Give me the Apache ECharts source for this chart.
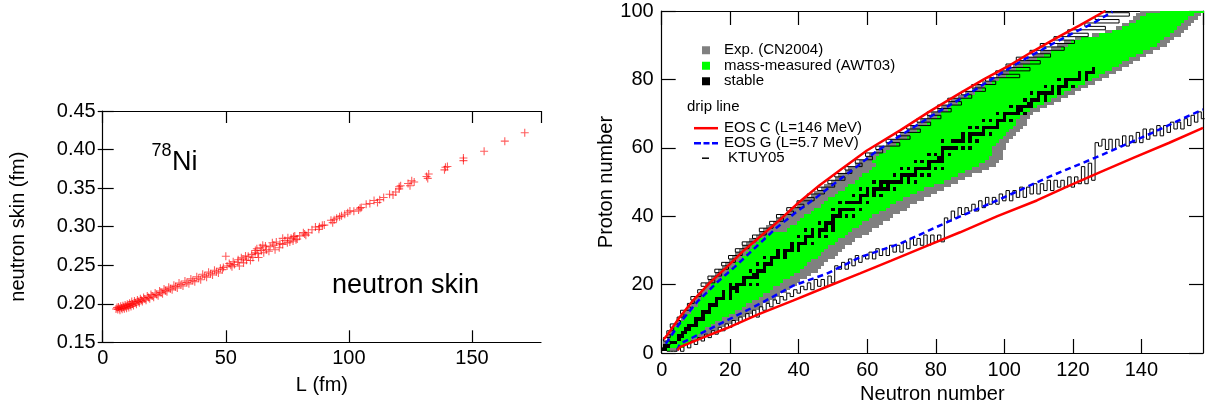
<!DOCTYPE html>
<html><head><meta charset="utf-8">
<script src="https://cdn.jsdelivr.net/npm/echarts@6/dist/echarts.min.js"></script>
<style>html,body{margin:0;padding:0;background:#fff}#c{width:1216px;height:410px}</style>
</head><body><div id="c"></div>
<script>
// ---------- left panel: neutron skin of 78Ni vs L ----------
const skinL = [5.4,5.8,6.1,6.4,6.7,7.0,7.3,7.6,7.9,8.2,8.5,8.8,9.1,9.4,9.7,10.0,10.3,10.6,10.9,11.2,11.5,11.8,12.1,12.5,12.9,13.3,13.7,14.1,14.5,14.9,15.3,15.7,16.1,16.6,17.1,17.6,18.1,18.6,19.1,19.6,20.1,20.7,21.3,21.9,22.5,23.1,23.7,24.3,24.9,25.5,26.1,26.8,27.5,28.2,28.9,29.6,30.3,31.0,31.8,32.6,33.4,34.2,35.0,35.8,36.6,37.4,38.2,39.0,39.8,40.6,41.4,42.2,43.0,43.8,44.6,45.4,46.2,47.0,47.8,48.6,
  49.0,50.0,50.5,51.4,52.0,52.5,53.0,53.5,54.9,55.0,55.5,56.3,57.0,57.2,58.0,58.4,59.1,60.0,60.5,61.0,61.9,62.0,62.6,63.0,63.3,64.0,64.5,65.0,65.4,66.1,66.5,67.5,68.0,68.9,69.5,70.0,70.5,71.7,72.0,73.1,73.1,74.0,75.0,75.2,76.0,76.5,77.3,77.5,78.0,78.5,79.0,80.0,81.5,82.0,82.5,83.5,85.0,86.4,87.8,88.0,89.2,90.0,92.7,93.4,94.0,95.0,96.2,97.0,98.3,99.5,100.4,102.0,103.9,104.5,105.0,107.0,108.5,110.2,111.6,112.5,114.1,116.5,117.9,119.0,120.4,120.4,121.0,124.0,124.8,125.5,126.5,131.5,132.0,132.4,138.8,139.2,140.0,146.5,146.5,154.9,163.3,171.4];
const skinV = [0.1932,0.1950,0.1925,0.1958,0.1940,0.1915,0.1968,0.1945,0.1928,0.1975,0.1955,0.1935,0.1985,0.1962,0.1942,0.1995,0.1972,0.1952,0.2008,0.1985,0.1965,0.2030,0.1998,0.1978,0.2035,0.2012,0.1995,0.2050,0.2030,0.2012,0.2065,0.2045,0.2028,0.2082,0.2062,0.2045,0.2100,0.2080,0.2065,0.2120,0.2100,0.2085,0.2140,0.2120,0.2105,0.2165,0.2145,0.2130,0.2190,0.2170,0.2155,0.2215,0.2195,0.2180,0.2240,0.2222,0.2205,0.2268,0.2248,0.2230,0.2295,0.2275,0.2258,0.2322,0.2300,0.2285,0.2350,0.2330,0.2312,0.2382,0.2362,0.2345,0.2410,0.2390,0.2372,0.2435,0.2415,0.2398,0.2460,0.2442,
  0.2470,0.2617,0.2490,0.2522,0.2500,0.2480,0.2545,0.2509,0.2539,0.2570,0.2490,0.2596,0.2580,0.2530,0.2620,0.2565,0.2617,0.2560,0.2640,0.2600,0.2661,0.2690,0.2713,0.2650,0.2600,0.2726,0.2690,0.2760,0.2661,0.2748,0.2700,0.2680,0.2740,0.2791,0.2760,0.2700,0.2800,0.2726,0.2780,0.2770,0.2848,0.2820,0.2790,0.2857,0.2800,0.2850,0.2813,0.2870,0.2878,0.2830,0.2840,0.2880,0.2922,0.2905,0.2890,0.2920,0.2960,0.2996,0.2965,0.3000,0.3017,0.3020,0.3083,0.3052,0.3090,0.3110,0.3130,0.3140,0.3160,0.3180,0.3204,0.3200,0.3217,0.3240,0.3248,0.3290,0.3300,0.3340,0.3313,0.3350,0.3378,0.3420,0.3410,0.3450,0.3517,0.3490,0.3530,0.3560,0.3530,0.3596,0.3580,0.3650,0.3626,0.3683,0.3737,0.3770,0.3780,0.3890,0.3857,0.3978,0.4109,0.4217];
const skinXTicks = [0, 50, 100, 150];
const skinYTicks = [0.15, 0.20, 0.25, 0.30, 0.35, 0.40, 0.45];

// ---------- right panel: nuclear chart (index = proton number Z-1, Z = 1..100) ----------
const expMinN = [0,1,1,2,2,3,3,4,5,6, 6,7,8,9,9,10,11,12,13,13, 14,15,16,17,18,19,20,21,22,23, 24,25,26,28,29,30,31,33,34,35, 37,38,40,41,42,44,45,47,48,50, 51,52,54,55,57,58,60,61,63,64, 66,67,69,70,72,73,75,76,78,79, 81,82,84,85,87,89,91,92,94,96, 98,99,101,103,105,107,109,111,114,116, 118,121,126,130,133,135,137,138,139,140];
const expMaxN = [4,6,8,10,12,14,16,18,20,22, 24,26,28,29,31,33,34,36,37,39, 40,42,43,45,46,47,48,50,51,52, 53,55,56,58,60,61,63,64,66,67, 69,71,72,74,76,78,80,82,84,86, 88,90,93,95,97,98,99,99,99,100, 100,101,102,103,104,105,106,106,107,108, 110,112,114,116,118,120,122,124,126,128, 130,132,134,136,137,139,141,143,145,147, 148,149,151,152,153,154,155,156,157,158];
const massMinN = [1,2,2,3,3,4,4,5,6,7, 8,9,10,11,11,12,13,14,15,15, 17,18,19,20,21,22,23,24,25,26, 27,28,29,31,32,37,38,40,41,42, 44,45,47,48,49,51,52,54,55,57, 58,59,61,62,63,62,63,64,66,67, 69,70,72,73,75,76,78,79,81,82, 84,85,87,88,90,92,94,95,97,99, 101,102,104,106,108,110,112,114,117,119, 120,123,128,132,135,137,139,140,142,146];
const massMaxN = [2,6,8,8,10,11,12,14,15,17, 19,21,23,24,26,28,29,31,32,34, 35,37,38,40,41,42,43,45,46,47, 48,50,51,53,54,55,57,58,60,61, 63,65,66,68,70,72,74,76,79,82, 84,86,88,90,92,94,95,96,96,96, 97,98,99,100,101,102,103,103,104,105, 107,109,111,113,115,117,119,121,123,125, 127,129,131,133,134,136,138,140,142,144, 145,146,148,149,150,151,152,153,155,158];
const stableN = [[0,1],[1,2],[3,4],[5],[5,6],[6,7],[7,8],[8,9,10],[10],[10,11,12],
  [12],[12,13,14],[14],[14,15,16],[16],[16,17,18,20],[18,20],[18,20,22],[20,21,22],[20,22,23,24,26,28],
  [24],[24,25,26,27,28],[27,28],[26,28,29,30],[30],[28,30,31,32],[32],[30,32,33,34,36],[34,36],[34,36,37,38,40],
  [38,40],[38,40,41,42,44],[42],[40,42,43,44,46,48],[44,46],[42,44,46,47,48,50],[48,50],[46,48,49,50],[50],[50,51,52,54,56],
  [52],[50,52,53,54,55,56,58],[],[52,54,55,56,57,58,60],[58],[56,58,59,60,62,64],[60,62],[58,60,62,63,64,65,66,68],[64,66],[62,64,65,66,67,68,69,70,72,74],
  [70,72],[68,70,71,72,73,74,76,78],[74],[70,72,74,75,76,77,78,80,82],[78],[74,76,78,79,80,81,82],[81,82],[78,80,82,84],[82],[82,83,84,85,86,88,90],
  [],[82,85,86,87,88,90,92],[88,90],[88,90,91,92,93,94,96],[94],[90,92,94,95,96,97,98],[98],[94,96,98,99,100,102],[100],[98,100,101,102,103,104,106],
  [104,105],[102,104,105,106,107,108],[107,108],[106,108,109,110,112],[110,112],[108,110,111,112,113,114,116],[114,116],[112,114,116,117,118,120],[118],[116,118,119,120,121,122,124],
  [122,124],[122,124,125,126],[126]];
// KTUY05 proton drip: smallest bound N for Z = 1..100
const ktuyProtonN = [0,1,3,1,3,2,4,3,6,5, 7,6,9,8,10,9,12,11,13,12, 16,14,18,16,20,18,22,20,24,22, 26,24,28,27,31,29,33,32,36,34, 39,37,42,40,45,43,48,46,51,49, 54,51,56,54,59,57,62,60,65,63, 70,66,73,69,76,72,79,75,82,78, 85,81,88,84,91,88,95,91,98,95, 105,98,108,101,111,104,114,108,118,111, 121,115,125,119,130,124,134,127,137,130];
// KTUY05 neutron drip: smallest bound Z for N = 2..158
const ktuyNeutronZ = [1,1,1,2,1,3,2,4,3,5,4,6,5,7,6,8,7,9,8,10,9,11,10,12,11,13,11,14,13,15,14,16,15,17,16,18,17,19,18,20,19,21,19,22,20,22,20,23,21,
  26,25,27,25,28,26,29,27,29,28,30,28,31,29,31,29,32,30,32,30,33,31,34,32,34,32,35,32,35,33,35,33,
  40,39,42,40,43,41,43,42,44,42,45,43,46,44,46,44,47,45,48,45,48,46,49,46,49,47,50,47,50,48,51,48,51,49,51,49,52,49,52,50,55,50,56,51,
  62,61,63,60,63,60,63,61,64,61,64,62,65,62,66,63,66,64,67,64,67,65,68,66,68,66,69,67,70,68,71,69];
// drip lines of the two EOS, [N, Z]
const eosCProton = [[0.6,4],[1.5,5.1],[5.3,10.5],[9.2,15.4],[14,20.5],[19,25.1],[24,30],[28.7,34],[34,38.5],[40,44],[46,49],[52.6,53.9],[59.9,59.2],[69.6,65.1],[78,70.5],[87.1,76],[94,80],[101.7,84.2],[108,88],[115,92],[122,95.8],[128.9,99.7],[129.5,100]];
const eosCNeutron = [[4.6,0.8],[5.3,1.7],[12,4.5],[19.1,7.3],[28,11.2],[38.3,15.3],[48,19.3],[57.9,23.3],[67,27],[77.4,31.3],[87.1,35.3],[98,40],[109.5,44.6],[118,48.5],[128,52.9],[138,57.2],[148,61.4],[158,65.8]];
const eosGProton = [[1.2,2.7],[5.5,9],[10.4,15],[16,20.5],[22,25.8],[27.5,31],[33.5,36.6],[39,41],[45,45.4],[51,50],[56.6,54.2],[62,58.5],[68,62.5],[74,66.3],[79.7,69.9],[85.5,73.3],[91.2,76.8],[97,80.5],[102.8,84.1],[108.5,87.3],[114.3,90.5],[120,93.5],[125.9,96.4],[131.6,99.8]];
const eosGNeutron = [[4.6,0.8],[5.3,2.7],[12,6],[19,9.5],[28.7,14.4],[38.4,19.7],[48.2,23.2],[57.9,28],[69.6,32],[83.2,38.2],[98.8,45],[113,51.5],[128,57.7],[143,64.3],[157.2,70.9],[158,71.2]];
const nucXTicks = [0,20,40,60,80,100,120,140];
const nucYTicks = [0,20,40,60,80,100];

// ---------- build ----------
const FONT = 'Liberation Sans, Arial, Helvetica, sans-serif';
const skinData = skinL.map((l, i) => [l, skinV[i]]);
const rowsOf = (mn, mx) => mn.map((v, i) => [i + 1, v, mx[i]]);
const stableCells = [];
stableN.forEach((ns, i) => ns.forEach(n => stableCells.push([i + 1, n, n])));
const ktuyP = [];
ktuyProtonN.forEach((n, i) => { const z = i + 1; ktuyP.push([n - 0.5, z - 0.5], [n - 0.5, z + 0.5]); });
const ktuyN = [];
ktuyNeutronZ.forEach((z, i) => { const n = i + 2; ktuyN.push([n - 0.5, z - 0.5], [n + 0.5, z - 0.5]); });

function cellRender(color) {
  return function (params, api) {
    const z = api.value(0), n0 = api.value(1), n1 = api.value(2);
    const a = api.coord([n0 - 0.5, z + 0.5]), b = api.coord([n1 + 0.5, z - 0.5]);
    const x0 = Math.round(a[0]), x1 = Math.round(b[0]), y0 = Math.round(a[1]), y1 = Math.round(b[1]);
    return { type: 'rect', shape: { x: x0, y: y0, width: x1 - x0, height: y1 - y0 }, style: { fill: color } };
  };
}
function cellSeries(name, data, color, z) {
  return { type: 'custom', name, data, xAxisIndex: 2, yAxisIndex: 2, clip: true, z,
    itemStyle: { color }, renderItem: cellRender(color), encode: { x: [1, 2], y: 0 } };
}
function lineSeries(name, data, color, width, type, z) {
  return { type: 'line', name, data, xAxisIndex: 2, yAxisIndex: 2, symbol: 'none', z, clip: true,
    lineStyle: { color, width, type }, itemStyle: { color } };
}
const tick = (len) => ({ show: true, inside: true, length: len, lineStyle: { color: '#000', width: 1.2 } });
const lab = (extra) => Object.assign({ color: '#000', fontSize: 20, fontFamily: FONT, showMaxLabel: false }, extra);
const nameStyle = { color: '#000', fontSize: 20, fontFamily: FONT };
const axisBase = (extra) => Object.assign({
  type: 'value', splitLine: { show: false },
  axisLine: { show: true, onZero: false, lineStyle: { color: '#000', width: 1.2 } },
}, extra);

const chart = echarts.init(document.getElementById('c'), null, { renderer: 'canvas' });
chart.setOption({
  animation: false,
  backgroundColor: '#fff',
  textStyle: { fontFamily: FONT },
  grid: [
    { left: 102.7, top: 111, width: 438.3, height: 231.3 },
    { left: 661.7, top: 11, width: 541.3, height: 342 }
  ],
  xAxis: [
    axisBase({ gridIndex: 0, min: skinXTicks[0], max: 178, interval: 50, position: 'bottom',
      axisTick: tick(12), axisLabel: lab({ margin: 6 }),
      name: 'L (fm)', nameLocation: 'middle', nameGap: 33, nameTextStyle: nameStyle }),
    axisBase({ gridIndex: 0, min: skinXTicks[0], max: 178, interval: 50, position: 'top',
      axisTick: tick(12), axisLabel: { show: false } }),
    axisBase({ gridIndex: 1, min: nucXTicks[0], max: 158, interval: 20, position: 'bottom',
      axisTick: tick(14), axisLabel: lab({ margin: 7 }),
      name: 'Neutron number', nameLocation: 'middle', nameGap: 31, nameTextStyle: nameStyle }),
    axisBase({ gridIndex: 1, min: nucXTicks[0], max: 158, interval: 20, position: 'top',
      axisTick: tick(14), axisLabel: { show: false } })
  ],
  yAxis: [
    axisBase({ gridIndex: 0, min: skinYTicks[0], max: skinYTicks[skinYTicks.length - 1], interval: 0.05, position: 'left',
      axisTick: tick(11), axisLabel: lab({ margin: 7, showMaxLabel: true, formatter: v => v.toFixed(2) }),
      name: 'neutron skin (fm)', nameLocation: 'middle', nameGap: 74, nameTextStyle: nameStyle }),
    axisBase({ gridIndex: 0, min: skinYTicks[0], max: skinYTicks[skinYTicks.length - 1], interval: 0.05, position: 'right',
      axisLine: { show: false }, axisTick: tick(5), axisLabel: { show: false } }),
    axisBase({ gridIndex: 1, min: nucYTicks[0], max: 100, interval: 20, position: 'left',
      axisTick: tick(14), axisLabel: lab({ margin: 8, showMaxLabel: true }),
      name: 'Proton number', nameLocation: 'middle', nameGap: 33, nameTextStyle: nameStyle }),
    axisBase({ gridIndex: 1, min: nucYTicks[0], max: 100, interval: 20, position: 'right',
      axisTick: tick(14), axisLabel: { show: false } })
  ],
  legend: [
    { left: 697, top: 37.5, orient: 'vertical', itemWidth: 8, itemHeight: 8, itemGap: 0, icon: 'rect', selectedMode: false,
      textStyle: { fontSize: 15, lineHeight: 15.5, color: '#000', fontFamily: FONT, padding: [0, 0, 0, 9] },
      data: ['Exp. (CN2004)', 'mass-measured (AWT03)', 'stable'] },
    { left: 689, top: 115.7, orient: 'vertical', itemWidth: 24, itemHeight: 2.5, itemGap: 0, selectedMode: false,
      textStyle: { fontSize: 15, lineHeight: 14, color: '#000', fontFamily: FONT, padding: [0, 0, 0, 1] },
      data: [
        { name: 'EOS C (L=146 MeV)', icon: 'rect' },
        { name: 'EOS G (L=5.7 MeV)', icon: 'path://M0,0H7V2.5H0Z M9.5,0H15.5V2.5H9.5Z M18,0H24V2.5H18Z' }
      ] },
    { left: 697, top: 145.7, orient: 'vertical', itemWidth: 7, itemHeight: 1.5, itemGap: 0, selectedMode: false,
      textStyle: { fontSize: 15, lineHeight: 14, color: '#000', fontFamily: FONT, padding: [0, 0, 0, 14] },
      data: [{ name: 'KTUY05', icon: 'rect' }] }
  ],
  graphic: [
    { type: 'text', left: 151.5, top: 142, z: 100, style: { text: '78', fontSize: 18, fontFamily: FONT, fill: '#000' } },
    { type: 'text', left: 172, top: 149, z: 100, style: { text: 'Ni', fontSize: 27, fontFamily: FONT, fill: '#000' } },
    { type: 'text', left: 332, top: 272, z: 100, style: { text: 'neutron skin', fontSize: 27, fontFamily: FONT, fill: '#000' } },
    { type: 'text', left: 687, top: 99, z: 100, style: { text: 'drip line', fontSize: 15, fontFamily: FONT, fill: '#000' } }
  ],
  series: [
    { type: 'scatter', name: 'neutron skin', data: skinData, xAxisIndex: 0, yAxisIndex: 0,
      symbol: 'path://M5,0L5,10M0,5L10,5', symbolSize: 8,
      itemStyle: { color: 'rgba(255,0,0,0)', borderColor: 'rgba(255,0,0,0.8)', borderWidth: 1.1 } },
    cellSeries('Exp. (CN2004)', rowsOf(expMinN, expMaxN), '#808080', 2),
    cellSeries('mass-measured (AWT03)', rowsOf(massMinN, massMaxN), '#00ff00', 3),
    cellSeries('stable', stableCells, '#000000', 4),
    lineSeries('KTUY05', ktuyP, '#000', 1, 'solid', 5),
    lineSeries('KTUY05', ktuyN, '#000', 1, 'solid', 5),
    lineSeries('EOS G (L=5.7 MeV)', eosGProton, '#0000ff', 2.5, [6, 4], 6),
    lineSeries('EOS G (L=5.7 MeV)', eosGNeutron, '#0000ff', 2.5, [6, 4], 6),
    lineSeries('EOS C (L=146 MeV)', eosCProton, '#ff0000', 2.5, 'solid', 7),
    lineSeries('EOS C (L=146 MeV)', eosCNeutron, '#ff0000', 2.5, 'solid', 7)
  ]
});
</script></body></html>
